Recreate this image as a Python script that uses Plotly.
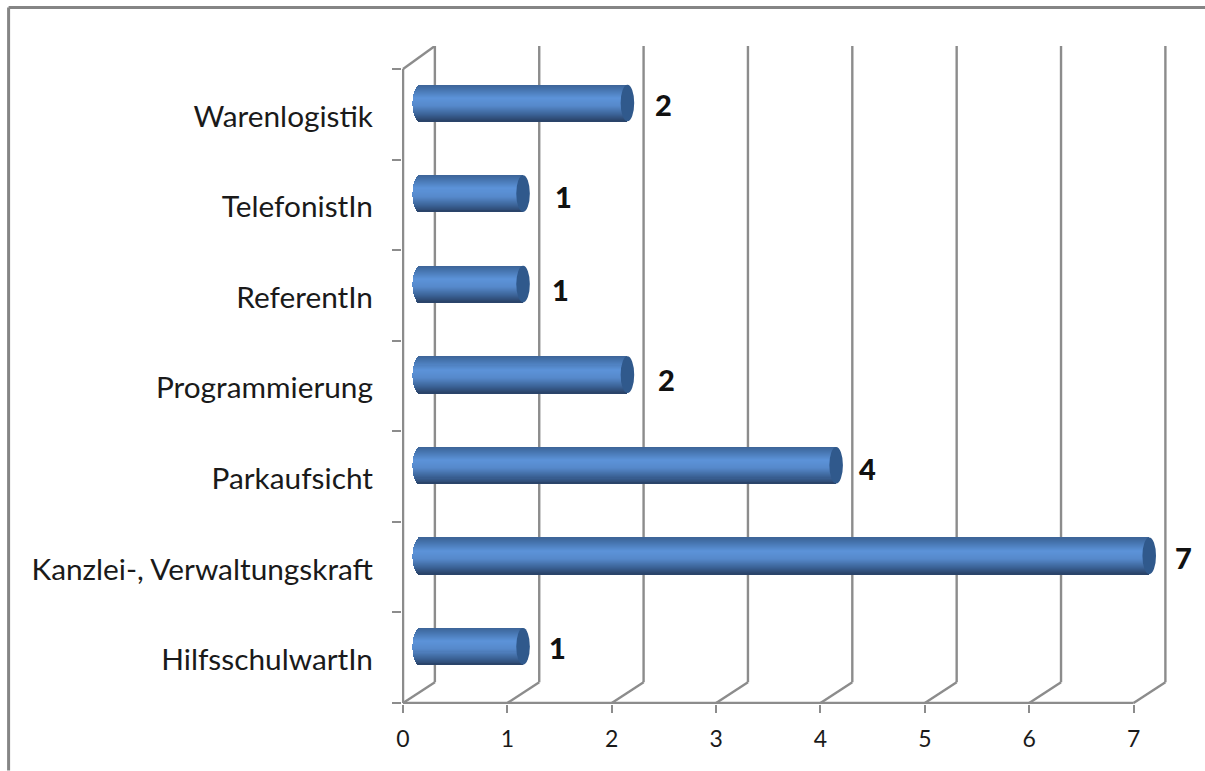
import math
import plotly.graph_objects as go

categories = ["HilfsschulwartIn", "Kanzlei-, Verwaltungskraft", "Parkaufsicht",
              "Programmierung", "ReferentIn", "TelefonistIn", "Warenlogistik"]
values = [1, 7, 4, 2, 1, 1, 2]
x_ticks = [0, 1, 2, 3, 4, 5, 6, 7]
label_dx = [28, 27, 25, 32, 31, 34, 29]
label_dy = [-1, -2, -3, -5, -5, -3, -2]

GRID = "#8c8c8c"
DEPTH_X, DEPTH_Y = 0.305, 0.23
X_MIN, X_MAX, Y_MIN, Y_EDGE, Y_MAX = -0.01, 7.33, -0.511, -0.5, 6.754
UX, UY = 104.4, 90.7
X0PX, Y0PX = 402.6, 703.5
L, R = X0PX + X_MIN * UX, X0PX + X_MAX * UX
B, T = Y0PX + (Y_EDGE - Y_MIN) * UY, Y0PX - (Y_MAX - Y_EDGE) * UY
W, H = 1205, 771
BAR_SHIFT, BAR_H = 0.125, 0.405
CAP_L, CAP_R = 0.075, 0.065
START, END_PAD = 0.09, 0.215
STOPS = [(0, (62, 102, 154)), (0.1, (68, 114, 172)), (0.36, (92, 147, 217)), (0.58, (86, 137, 203)),
         (0.82, (60, 100, 152)), (1, (42, 68, 106))]
N = 36


def colour(t):
    for (a, ca), (b, cb) in zip(STOPS, STOPS[1:]):
        if t <= b:
            f = (t - a) / (b - a)
            return "rgb(%d,%d,%d)" % tuple(round(p + (q - p) * f) for p, q in zip(ca, cb))
    return "rgb(42,68,106)"


fig = go.Figure()
slice_h = BAR_H / N
for i in range(N):
    t = i / (N - 1)
    u = 2 * (i + 0.5) / N - 1
    inset = CAP_L * (1 - math.sqrt(1 - u * u))
    top = BAR_SHIFT + BAR_H / 2 - slice_h * i
    base = START + inset
    h = slice_h * (1.6 if i < N - 1 else 1)
    fig.add_trace(go.Bar(
        y=categories, x=[v + END_PAD - CAP_R - base for v in values], base=base,
        orientation="h", width=h, offset=top - h,
        marker=dict(color=colour(t), line=dict(width=0)), showlegend=False, hoverinfo="skip"))

shapes = []


def line(x0, y0, x1, y1, xref="x", yref="y", color=GRID, width=2.4):
    shapes.append(dict(type="line", x0=x0, y0=y0, x1=x1, y1=y1, xref=xref, yref=yref,
                       layer="below", line=dict(color=color, width=width)))


for k in x_ticks:
    line(k, Y_EDGE, k + DEPTH_X, Y_EDGE + DEPTH_Y)
    line(k + DEPTH_X, Y_EDGE + DEPTH_Y, k + DEPTH_X, Y_MAX)
line(0, Y_EDGE, x_ticks[-1], Y_EDGE)
line(0, Y_EDGE, 0, 6.5)
line(0, 6.5, DEPTH_X, Y_MAX)

pw, ph = R - L, B - T
fx = lambda px: (px - L) / pw
fy = lambda py: (B - py) / ph
line(fx(8), fy(7), fx(W), fy(7), "paper", "paper", "#858585", 3)
line(fx(8), fy(7), fx(8), fy(H), "paper", "paper", "#858585", 3)

for i, v in enumerate(values):
    end = v + END_PAD
    shapes.append(dict(type="circle", xref="x", yref="y", x0=end - 2 * CAP_R, x1=end,
                       y0=i + BAR_SHIFT - BAR_H / 2, y1=i + BAR_SHIFT + BAR_H / 2,
                       fillcolor="#30598c", line=dict(width=0), layer="above"))

annotations = [dict(x=v + END_PAD, y=i + BAR_SHIFT, text=str(v), showarrow=False,
                    xref="x", yref="y", xshift=label_dx[i], yshift=label_dy[i],
                    font=dict(family="Lato", size=29, color="#111111", weight=900))
               for i, v in enumerate(values)]

fig.update_layout(
    width=W, height=H, autosize=False, paper_bgcolor="white", plot_bgcolor="white",
    margin=dict(l=L, r=W - R, t=T, b=H - B, pad=0), barmode="overlay", bargap=0,
    shapes=shapes, annotations=annotations, showlegend=False,
    font=dict(family="Lato", color="#1a1a1a"),
    xaxis=dict(range=[X_MIN, X_MAX], tickvals=x_ticks, ticks="outside", ticklen=8, tickwidth=2,
               tickcolor=GRID, showgrid=False, zeroline=False, showline=False,
               tickfont=dict(size=23, family="Lato", color="#1a1a1a"), ticklabelstandoff=6),
    yaxis=dict(type="category", categoryorder="array", categoryarray=categories,
               range=[Y_MIN, Y_MAX], tickson="boundaries", ticks="outside", ticklen=9, tickwidth=2,
               tickcolor=GRID, showgrid=False, zeroline=False, showline=False,
               tickfont=dict(size=29.8, family="Lato", color="#1a1a1a"), ticklabelstandoff=28,
               ticklabelshift=2),
)
fig.write_html("out.html", config={"displayModeBar": False},
               post_script="document.body.style.margin='0';")
